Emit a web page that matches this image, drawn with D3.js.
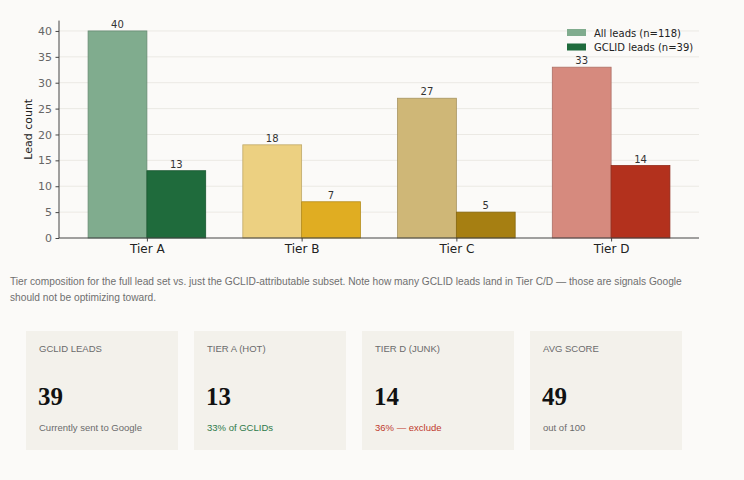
<!DOCTYPE html>
<html>
<head>
<meta charset="utf-8">
<script src="https://d3js.org/d3.v7.min.js"></script>
<style>
  body { margin: 0; background: #fbfaf8; font-family: "Liberation Sans", Arial, sans-serif; }
  #chart { display: block; }
  .caption { position: absolute; left: 10px; top: 274px; width: 700px; font-size: 10.2px; line-height: 16px; color: #6f6f6f; }
  .card { position: absolute; top: 331px; width: 152px; height: 119px; background: #f3f1eb; }
  .card .lbl { position: absolute; top: 12px; left: 13px; font-size: 9.5px; color: #6b6b6b; }
  .card .num { position: absolute; top: 52px; left: 12px; font-family: "Liberation Serif", serif; font-weight: bold; font-size: 25px; color: #111; }
  .card .sub { position: absolute; top: 91px; left: 13px; font-size: 9.5px; color: #6b6b6b; }
</style>
</head>
<body>
<svg id="chart" width="744" height="265"></svg>
<div class="caption">Tier composition for the full lead set vs. just the GCLID-attributable subset. Note how many GCLID leads land in Tier C/D — those are signals Google should not be optimizing toward.</div>
<div id="cards"></div>
<script>
// data
var tiers = ["Tier A", "Tier B", "Tier C", "Tier D"];
var allLeads = [40, 18, 27, 33];
var gclidLeads = [13, 7, 5, 14];
var allColors = ["#80ac8e", "#ecd081", "#cfb777", "#d68a7e"];
var gclidColors = ["#1f6b3c", "#e0ad22", "#a67f12", "#b3311d"];
var yTicks = [0, 5, 10, 15, 20, 25, 30, 35, 40];
var legendLabels = ["All leads (n=118)", "GCLID leads (n=39)"];

var cardLabels = ["GCLID LEADS", "TIER A (HOT)", "TIER D (JUNK)", "AVG SCORE"];
var cardValues = ["39", "13", "14", "49"];
var cardNotes = ["Currently sent to Google", "33% of GCLIDs", "36% — exclude", "out of 100"];
var cardNoteColors = ["#6b6b6b", "#2e7a4a", "#c0392b", "#6b6b6b"];

var svg = d3.select("#chart");
var mLeft = 59, mRight = 699, mTop = 20.6, mBottom = 238;
var barW = 0.38;

var x = d3.scaleLinear().domain([-0.568, 3.568]).range([mLeft, mRight]);
var y = d3.scaleLinear().domain([0, 42]).range([mBottom, mTop]);

// gridlines
svg.append("g").selectAll("line").data(yTicks.slice(1)).enter().append("line")
    .attr("x1", mLeft).attr("x2", mRight)
    .attr("y1", function(d) { return y(d); }).attr("y2", function(d) { return y(d); })
    .attr("stroke", "#ebe9e4").attr("stroke-width", 1);

// bars
var g = svg.append("g");
tiers.forEach(function(t, i) {
    g.append("rect")
        .attr("x", x(i - barW)).attr("width", x(i) - x(i - barW))
        .attr("y", y(allLeads[i])).attr("height", y(0) - y(allLeads[i]))
        .attr("fill", allColors[i]).attr("stroke", d3.color(allColors[i]).darker(0.6)).attr("stroke-width", 0.8);
    g.append("rect")
        .attr("x", x(i)).attr("width", x(i + barW) - x(i))
        .attr("y", y(gclidLeads[i])).attr("height", y(0) - y(gclidLeads[i]))
        .attr("fill", gclidColors[i]).attr("stroke", d3.color(gclidColors[i]).darker(0.6)).attr("stroke-width", 0.8);
    g.append("text").attr("x", x(i - barW / 2)).attr("y", y(allLeads[i]) - 3)
        .attr("text-anchor", "middle").style("font-family", "DejaVu Sans").style("font-size", "10px").attr("fill", "#333")
        .text(allLeads[i]);
    g.append("text").attr("x", x(i + barW / 2)).attr("y", y(gclidLeads[i]) - 3)
        .attr("text-anchor", "middle").style("font-family", "DejaVu Sans").style("font-size", "10px").attr("fill", "#333")
        .text(gclidLeads[i]);
});

// y axis
var ya = svg.append("g").attr("transform", "translate(" + mLeft + ",0)")
    .call(d3.axisLeft(y).tickValues(yTicks).tickSize(3.5).tickPadding(3.5));
ya.select(".domain").attr("d", "M0," + mTop + "V" + mBottom).attr("stroke", "#444");
ya.selectAll(".tick line").attr("stroke", "#444");
ya.selectAll("text").style("font-family", "DejaVu Sans").style("font-size", "11px").attr("fill", "#666");

// x axis
var xa = svg.append("g").attr("transform", "translate(0," + mBottom + ")")
    .call(d3.axisBottom(x).tickValues([0, 1, 2, 3]).tickFormat(function(d) { return tiers[d]; }).tickSize(3.5).tickPadding(3));
xa.select(".domain").attr("d", "M" + mLeft + ",0H" + mRight).attr("stroke", "#444");
xa.selectAll(".tick line").attr("stroke", "#444");
xa.selectAll("text").style("font-family", "DejaVu Sans").style("font-size", "12px").attr("fill", "#222");

svg.append("text").attr("transform", "translate(32," + ((mTop + mBottom) / 2) + ") rotate(-90)")
    .attr("text-anchor", "middle").style("font-family", "DejaVu Sans").style("font-size", "11px").attr("fill", "#222")
    .text("Lead count");

// legend
var lg = svg.append("g").attr("transform", "translate(567,29)");
legendLabels.forEach(function(l, i) {
    lg.append("rect").attr("x", 0).attr("y", i * 14.5).attr("width", 19).attr("height", 7)
        .attr("fill", i === 0 ? allColors[0] : gclidColors[0]);
    lg.append("text").attr("x", 27).attr("y", i * 14.5 + 7.5)
        .style("font-family", "DejaVu Sans").style("font-size", "10px").attr("fill", "#222").text(l);
});

// cards
var cardLeft = [26, 194, 362, 530];
var cards = d3.select("#cards").selectAll(".card").data(cardLabels).enter().append("div")
    .attr("class", "card").style("left", function(d, i) { return cardLeft[i] + "px"; });
cards.append("div").attr("class", "lbl").text(function(d) { return d; });
cards.append("div").attr("class", "num").text(function(d, i) { return cardValues[i]; });
cards.append("div").attr("class", "sub").style("color", function(d, i) { return cardNoteColors[i]; })
    .text(function(d, i) { return cardNotes[i]; });
</script>
</body>
</html>
